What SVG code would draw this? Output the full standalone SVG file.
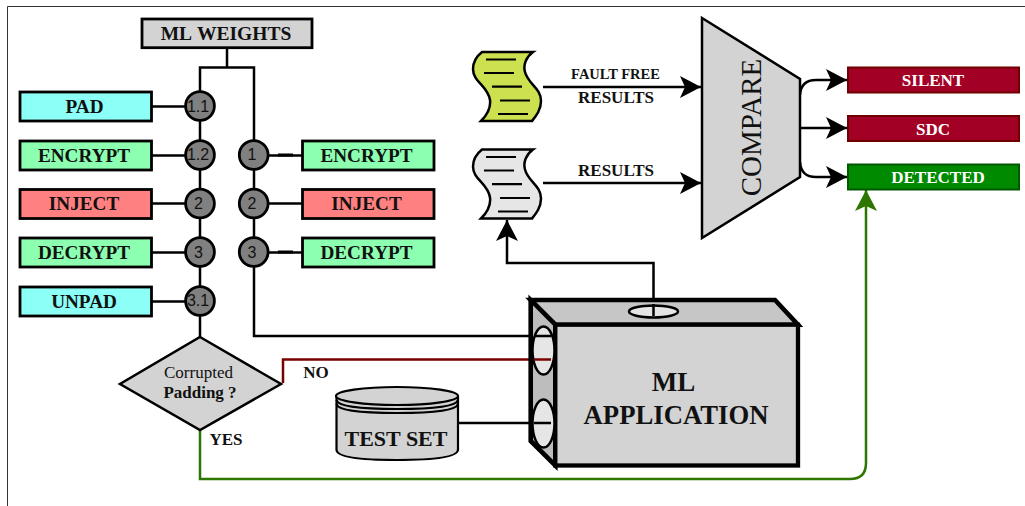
<svg xmlns="http://www.w3.org/2000/svg" width="1025" height="506" viewBox="0 0 1025 506">
<style>
text{font-family:"Liberation Serif","Times New Roman",serif;font-weight:bold;text-anchor:middle;fill:#111}
.box{stroke:#000;stroke-width:2.8}
.sm{fill:#808080;stroke:#000;stroke-width:2.8}
.n{font-family:"Liberation Sans",Arial,sans-serif;font-weight:normal;font-size:16px;fill:#111}
.l{font-size:19.200px}
.w{stroke:#000;stroke-width:2.500;fill:none}
.out{font-size:17px;fill:#fff}
.dl{stroke:#000;stroke-width:2.200;fill:none}
.port{fill:#e6e6e6;stroke:#000;stroke-width:2.500}
</style>
<defs>
<marker id="a" markerUnits="userSpaceOnUse" markerWidth="24" markerHeight="24" refX="21" refY="11" orient="auto"><path d="M0 0L21 11L0 22L5 11Z" fill="#000"/></marker>
<marker id="g" markerUnits="userSpaceOnUse" markerWidth="24" markerHeight="24" refX="21" refY="11" orient="auto"><path d="M0 0L21 11L0 22L5 11Z" fill="#2d7600"/></marker>
<path id="doc" d="M482 52H533C526 57 523 65 525 72C528 84 541 88 541 101C541 110 536 116 532 121H481C486 116 491 108 490 100C488 86 473 82 473 69C473 61 477 56 482 52Z"/>
<path id="dlines" d="M486 59.500H516M484 73H514M492 86.700H522M500 100.500H530M498 114H528"/>
</defs>
<path id="frame" d="M7.500 506V6.500H1025" fill="none" stroke="#333" stroke-width="1"/>
<g id="connectors">
<path class="w" d="M227 48V67.500M200 337V67.500H254V336H552"/>
<path class="w" d="M152 106.500H200M152 155.500H200M152 203.500H200M152 252.500H200M152 301.500H200"/>
<path class="w" d="M254 155.500H302M254 203.500H302M254 252.500H302"/>
<path d="M278 155H293M278 252H293" stroke="#000" stroke-width="3.200"/>
<path class="w" d="M458 423H551"/>
<path d="M283 383V359.500H551" fill="none" stroke="#7a0000" stroke-width="2.500"/>
<path d="M200 430V479H850Q866 479 866 463V190" fill="none" stroke="#2d7600" stroke-width="2.500" marker-end="url(#g)"/>
<path class="w" d="M653.500 316V263H507V220" marker-end="url(#a)"/>
<path class="w" d="M543 87H701" marker-end="url(#a)"/>
<path class="w" d="M543 183H701" marker-end="url(#a)"/>
<path class="w" d="M800 128H847" marker-end="url(#a)"/>
<path class="w" d="M800 95Q801 80 816 80H847" marker-end="url(#a)"/>
<path class="w" d="M800 162Q801 177 816 177H847" marker-end="url(#a)"/>
</g>
<g id="ml-weights"><rect class="box" x="142" y="19" width="170" height="28.700" fill="#d3d3d3"/><text class="l" x="226" y="40" style="font-kerning:none;font-size:19.500px">ML WEIGHTS</text></g>
<g id="pad"><rect class="box" x="20" y="92" width="131.500" height="29" fill="#8cfff7"/><text class="l" x="84.500" y="113">PAD</text></g>
<g id="encrypt-l"><rect class="box" x="20" y="141" width="131.500" height="29" fill="#8cffb0"/><text class="l" x="84" y="161.500">ENCRYPT</text></g>
<g id="inject-l"><rect class="box" x="20" y="189.500" width="131.500" height="29" fill="#ff8080"/><text class="l" x="84" y="210">INJECT</text></g>
<g id="decrypt-l"><rect class="box" x="20" y="238" width="131.500" height="29" fill="#8cffb0"/><text class="l" x="84" y="258.500">DECRYPT</text></g>
<g id="unpad"><rect class="box" x="20" y="287" width="131.500" height="29" fill="#8cfff7"/><text class="l" x="84" y="308">UNPAD</text></g>
<g id="encrypt-r"><rect class="box" x="302.500" y="141" width="131.500" height="29" fill="#8cffb0"/><text class="l" x="366.500" y="161.500">ENCRYPT</text></g>
<g id="inject-r"><rect class="box" x="302.500" y="189.500" width="131.500" height="29" fill="#ff8080"/><text class="l" x="366.500" y="210">INJECT</text></g>
<g id="decrypt-r"><rect class="box" x="302.500" y="238" width="131.500" height="29" fill="#8cffb0"/><text class="l" x="366.500" y="258.500">DECRYPT</text></g>
<g id="s11"><circle class="sm" cx="200" cy="106" r="14.400"/><text class="n" x="198" y="111.500">1.1</text></g>
<g id="s12"><circle class="sm" cx="200" cy="155" r="14.400"/><text class="n" x="198" y="160">1.2</text></g>
<g id="s2"><circle class="sm" cx="200" cy="203.500" r="14.400"/><text class="n" x="198.500" y="209">2</text></g>
<g id="s3"><circle class="sm" cx="200" cy="252" r="14.400"/><text class="n" x="198.500" y="257.500">3</text></g>
<g id="s31"><circle class="sm" cx="200" cy="301" r="14.400"/><text class="n" x="198" y="306">3.1</text></g>
<g id="r1"><circle class="sm" cx="253.700" cy="155" r="14.400"/><text class="n" x="252" y="160">1</text></g>
<g id="r2"><circle class="sm" cx="253.700" cy="203.500" r="14.400"/><text class="n" x="252" y="209">2</text></g>
<g id="r3"><circle class="sm" cx="253.700" cy="252" r="14.400"/><text class="n" x="252" y="257.500">3</text></g>
<g id="decision"><path d="M200 337L281 384L200 430L120 384Z" fill="#d3d3d3" stroke="#000" stroke-width="2.500"/><text x="198.500" y="378" font-size="17" style="font-weight:normal">Corrupted</text><text x="200" y="398" font-size="17">Padding ?</text></g>
<text x="316" y="378" font-size="17">NO</text>
<text x="226" y="445" font-size="17">YES</text>
<g id="test-set"><path d="M336.500 396V450Q337 460 397 460T458 450V396" fill="#d3d3d3" stroke="#000" stroke-width="2.200"/><ellipse cx="397" cy="396" rx="61" ry="9" fill="#d3d3d3" stroke="#000" stroke-width="2.200"/><path class="dl" d="M336.500 400Q338 409 397 409T458 400M336.500 404Q338 413 397 413T458 404"/><text x="396" y="446" font-size="22">TEST SET</text></g>
<g id="ml-application">
<path d="M530.700 300H775L798 324.700H555.300Z" fill="#c6c6c6" stroke="#000" stroke-width="4.600"/>
<path d="M530.700 300L555.300 324.700V465.500L530.700 441Z" fill="#bdbdbd" stroke="#000" stroke-width="4.600"/>
<rect x="555.300" y="324.700" width="242.700" height="140.800" fill="#d3d3d3" stroke="#000" stroke-width="4.300"/>
<ellipse class="port" cx="543.500" cy="350.500" rx="11" ry="24"/>
<ellipse class="port" cx="543.500" cy="423.500" rx="11" ry="24"/>
<ellipse class="port" cx="653.500" cy="311.500" rx="24.500" ry="6"/>
<path class="w" d="M653.500 304V316M534 336H551M534 423H551"/>
<path d="M534 359.500H551" stroke="#7a0000" stroke-width="2.500"/>
<text x="673.500" y="391" font-size="27">ML</text>
<text x="676" y="424" font-size="26.700">APPLICATION</text>
</g>
<g id="doc-fault-free"><use href="#doc" fill="#cde04f" stroke="#000" stroke-width="2.500"/><use href="#dlines" class="dl"/></g>
<g id="doc-results"><use href="#doc" y="97.500" fill="#e6e6e6" stroke="#000" stroke-width="2.500"/><use href="#dlines" y="97.500" class="dl"/></g>
<text x="615.500" y="79" font-size="14.500">FAULT FREE</text>
<text x="616" y="103" font-size="17">RESULTS</text>
<text x="616" y="176" font-size="17">RESULTS</text>
<g id="compare"><path d="M702 18L800 79V177L702 238Z" fill="#d3d3d3" stroke="#000" stroke-width="2.500"/><text transform="translate(761 127.500) rotate(-90)" font-size="29" style="font-weight:normal">COMPARE</text></g>
<g id="silent"><rect x="848" y="67.500" width="171" height="25" fill="#a20025" stroke="#6f0000" stroke-width="2"/><text class="out" x="933" y="86">SILENT</text></g>
<g id="sdc"><rect x="848" y="116" width="171" height="25" fill="#a20025" stroke="#6f0000" stroke-width="2"/><text class="out" x="933" y="134.500">SDC</text></g>
<g id="detected"><rect x="848" y="164.500" width="171" height="25" fill="#008a00" stroke="#005700" stroke-width="2"/><text class="out" x="938" y="183">DETECTED</text></g>
</svg>
